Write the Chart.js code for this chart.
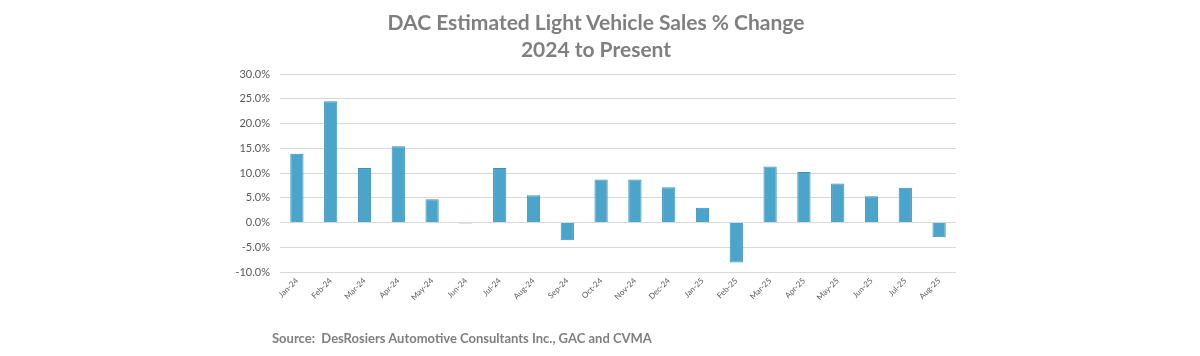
<!DOCTYPE html>
<html>
<head>
<meta charset="utf-8">
<script src="https://cdn.jsdelivr.net/npm/chart.js@4.4.1/dist/chart.umd.min.js"></script>
<style>
  html, body { margin: 0; padding: 0; background: #ffffff; }
  #wrap { position: relative; width: 1200px; height: 356px; overflow: hidden; }
  #c { position: absolute; left: 0; top: 0; }
  .title { position: absolute; left: 0; width: 1192px; text-align: center; font-family: Lato, "Open Sans", sans-serif; font-weight: bold; font-size: 21px; color: #7f7f7f; line-height: 27px; }
  .src { position: absolute; left: 272px; top: 330px; font-family: Lato, "Open Sans", sans-serif; font-weight: bold; font-size: 13px; color: #7f7f7f; }
</style>
</head>
<body>
<div id="wrap">
  <canvas id="c" width="1200" height="356"></canvas>
  <div class="title" style="top:8px">DAC Estimated Light Vehicle Sales % Change<br>2024 to Present</div>
  <div class="src">Source:&nbsp; DesRosiers Automotive Consultants Inc., GAC and CVMA</div>
</div>
<script>
const categories = ["Jan-24","Feb-24","Mar-24","Apr-24","May-24","Jun-24","Jul-24","Aug-24","Sep-24","Oct-24","Nov-24","Dec-24","Jan-25","Feb-25","Mar-25","Apr-25","May-25","Jun-25","Jul-25","Aug-25"];
const salesChange = [13.9, 24.5, 11.0, 15.4, 4.7, -0.2, 11.0, 5.5, -3.6, 8.7, 8.7, 7.1, 3.0, -8.1, 11.3, 10.2, 7.9, 5.3, 7.0, -3.0];
const yMin = -10, yMax = 30, yStep = 5;

new Chart(document.getElementById('c'), {
  type: 'bar',
  data: {
    labels: categories,
    datasets: [{
      data: salesChange,
      backgroundColor: '#4BA5CB',
      borderColor: '#3C8FBD',
      borderWidth: 1,
      barPercentage: 0.8,
      categoryPercentage: 0.49
    }]
  },
  options: {
    responsive: false,
    animation: false,
    layout: { padding: { left: 210, right: 244, top: 74, bottom: 40 } },
    plugins: { legend: { display: false }, title: { display: false }, tooltip: { enabled: false } },
    scales: {
      x: {
        grid: { display: false, drawTicks: false },
        border: { display: false },
        afterFit: s => { s.height = 44; },
        ticks: {
          minRotation: 45, maxRotation: 45, padding: 4,
          color: '#595959',
          font: { family: 'Lato, "Open Sans", sans-serif', size: 8 }
        }
      },
      y: {
        min: yMin, max: yMax,
        afterFit: s => { s.width = 70; },
        grid: { color: '#d9d9d9', lineWidth: 1, drawTicks: false },
        border: { display: false },
        ticks: {
          stepSize: yStep, padding: 10,
          color: '#595959',
          font: { family: 'Lato, "Open Sans", sans-serif', size: 11 },
          callback: v => v.toFixed(1) + '%'
        }
      }
    }
  }
});
</script>
</body>
</html>
